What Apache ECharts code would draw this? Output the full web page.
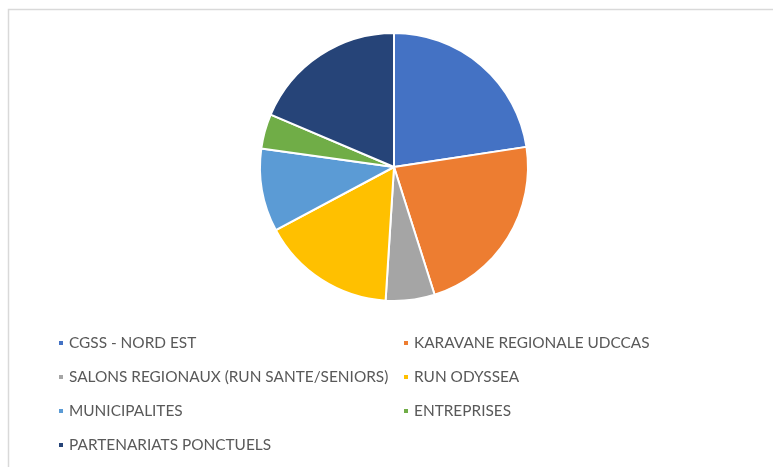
<!DOCTYPE html>
<html>
<head>
<meta charset="utf-8">
<script src="https://cdn.jsdelivr.net/npm/echarts@6/dist/echarts.min.js"></script>
<style>
  html, body { margin: 0; padding: 0; background: #fff; }
  #chart { width: 773px; height: 467px; }
</style>
</head>
<body>
<div id="chart"></div>
<script>
// parts of the pie (percent)
const categories = [
  'CGSS - NORD EST',
  'KARAVANE REGIONALE UDCCAS',
  'SALONS REGIONAUX (RUN SANTE/SENIORS)',
  'RUN ODYSSEA',
  'MUNICIPALITES',
  'ENTREPRISES',
  'PARTENARIATS PONCTUELS'
];
const values = [22.6, 22.5, 5.9, 16.2, 10.0, 4.2, 18.6];
const colors = ['#4472C4', '#ED7D31', '#A5A5A5', '#FFC000', '#5B9BD5', '#70AD47', '#264478'];

// legend laid out in two columns, like the original
const leftColumn = categories.filter((c, i) => i % 2 === 0);
const rightColumn = categories.filter((c, i) => i % 2 === 1);

const legendBase = {
  orient: 'vertical',
  top: 335,
  padding: 0,
  icon: 'rect',
  itemWidth: 6,
  itemHeight: 6,
  itemGap: 18,
  selectedMode: false,
  textStyle: {
    color: '#595959',
    fontFamily: 'Lato',
    fontSize: 15.4,
    lineHeight: 16
  }
};

const chart = echarts.init(document.getElementById('chart'), null, { renderer: 'canvas' });
chart.setOption({
  animation: false,
  color: colors,
  graphic: [{
    type: 'rect',
    silent: true,
    shape: { x: 8.5, y: 9.5, width: 900, height: 600 },
    style: { fill: 'none', stroke: '#d9d9d9', lineWidth: 1.5 }
  }],
  legend: [
    Object.assign({}, legendBase, { left: 57, data: leftColumn }),
    Object.assign({}, legendBase, { left: 402, data: rightColumn })
  ],
  series: [{
    type: 'pie',
    center: [394, 167],
    radius: 134,
    startAngle: 90,
    clockwise: true,
    label: { show: false },
    labelLine: { show: false },
    itemStyle: { borderColor: '#fff', borderWidth: 2 },
    emphasis: { disabled: true },
    data: categories.map((name, i) => ({ name: name, value: values[i] }))
  }]
});
</script>
</body>
</html>
